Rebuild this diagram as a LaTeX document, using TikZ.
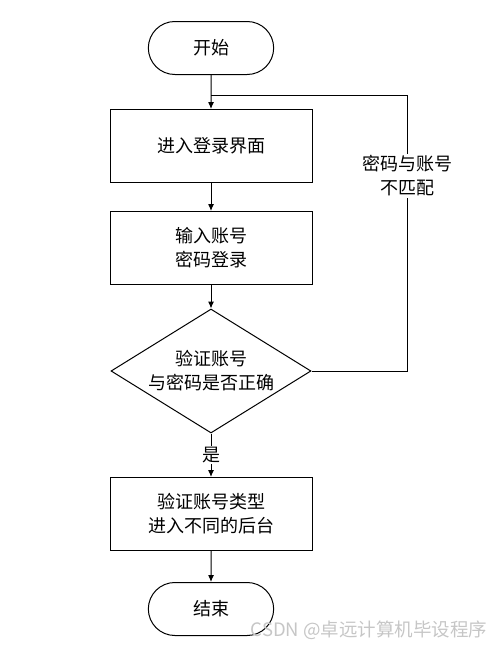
\documentclass[tikz,border=0pt]{standalone}
\usepackage{fontspec}
\setmainfont{Noto Sans CJK SC}
\usetikzlibrary{arrows.meta, shapes.geometric, shapes.misc}
\newcommand{\flowArrow}{{Latex[length=7pt, width=6pt]}}

\begin{document}
\begin{tikzpicture}[x=1pt, y=-1pt, line width=1pt, font=\fontsize{18}{24}\selectfont,
	terminal/.style={draw, rounded rectangle, minimum width=132pt, minimum height=53pt},
	stepbox/.style={draw, rectangle, minimum width=202pt, minimum height=73pt, align=center},
	check/.style={draw, diamond, minimum width=200pt, minimum height=124pt, inner sep=0pt}]
	\useasboundingbox (0,0) rectangle (499,648);
	\def\X{211}
	\def\R{407}
	
	\node[terminal]	(start)	at (\X,48)	{开始};
	\node[stepbox]	(login)	at (\X,146)	{进入登录界面};
	\node[stepbox]	(input)	at (\X,248)	{输入账号\\密码登录};
	\node[check]	(verify)	at (\X,371)	{};
	\node[align=center]	(verifytext)	at (verify)	{验证账号\\与密码是否正确};
	\node[stepbox]	(route)	at (\X,514)	{验证账号类型\\进入不同的后台};
	\node[terminal]	(stop)	at (\X,609)	{结束};
	
	\coordinate (join) at (\X,95);
	\coordinate (back) at (\R,95);
	
	\draw[-\flowArrow]	(start) -- (login);
	\draw[-\flowArrow]	(login) -- (input);
	\draw[-\flowArrow]	(input) -- (verify);
	\draw[-\flowArrow]	(verify) -- (route) node[midway, fill=white, inner sep=1pt] (yes) {是};
	\draw[-\flowArrow]	(route) -- (stop);
	\draw	(verify.east) -| (back) -- (join);
	\node[fill=white, align=center, inner sep=2pt] (nomatch) at (\R,176) {密码与账号\\不匹配};
	
	% watermark
	\node[text=gray!45, font=\fontsize{18.5}{20}\selectfont] (mark) at (369,630) {CSDN @卓远计算机毕设程序};
\end{tikzpicture}
\end{document}
